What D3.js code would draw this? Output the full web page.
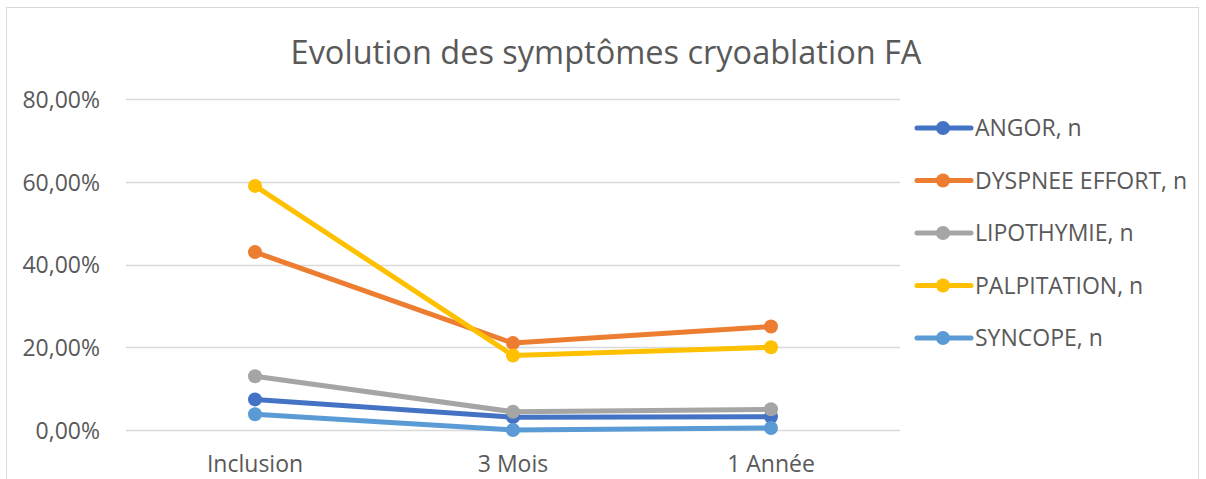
<!DOCTYPE html>
<html><head><meta charset="utf-8">
<script src="https://cdn.jsdelivr.net/npm/d3@7"></script>
<style>body{margin:0;background:#fff}svg{display:block}text{font-family:"Open Sans",Lato,sans-serif}</style>
</head><body>
<script>
const categories = ["Inclusion", "3 Mois", "1 Année"];
const seriesNames = ["ANGOR, n", "DYSPNEE EFFORT, n", "LIPOTHYMIE, n", "PALPITATION, n", "SYNCOPE, n"];
const angor = [0.074, 0.031, 0.032];
const dyspnee = [0.43, 0.21, 0.25];
const lipothymie = [0.13, 0.044, 0.05];
const palpitation = [0.59, 0.18, 0.20];
const syncope = [0.038, 0.0, 0.005];
const yTicks = [0, 0.2, 0.4, 0.6, 0.8];
const colors = ["#4472C4", "#ED7D31", "#A5A5A5", "#FFC000", "#5B9BD5"];
const title = "Evolution des symptômes cryoablation FA";

const series = [angor, dyspnee, lipothymie, palpitation, syncope].map((v, i) => ({name: seriesNames[i], values: v, color: colors[i]}));

const W = 1206, H = 479;
const svg = d3.select("body").append("svg").attr("width", W).attr("height", H);
svg.append("rect").attr("x", 6.5).attr("y", 7.5).attr("width", 1192).attr("height", 480).attr("fill", "#fff").attr("stroke", "#d9d9d9");

const x = d3.scaleBand().domain(categories).range([126, 900]);
const y = d3.scaleLinear().domain([0, 0.8]).range([430, 99]);

const fmt = v => d3.format(".2f")(v * 100).replace(".", ",") + "%";

svg.append("g").selectAll("line").data(yTicks).join("line")
  .attr("x1", 126).attr("x2", 900).attr("y1", d => Math.round(y(d)) + 0.5).attr("y2", d => Math.round(y(d)) + 0.5)
  .attr("stroke", "#d9d9d9").attr("stroke-width", 1.3);

const yAxis = svg.append("g").attr("transform", "translate(100,0)")
  .call(d3.axisLeft(y).tickValues(yTicks).tickFormat(fmt).tickSize(0).tickPadding(0));
yAxis.select(".domain").remove();
yAxis.selectAll("text").attr("fill", "#595959").style("font-size", "23px").attr("dy", "0.36em");

const xAxis = svg.append("g").attr("transform", "translate(0,464)")
  .call(d3.axisBottom(x).tickSize(0).tickPadding(0));
xAxis.select(".domain").remove();
xAxis.selectAll("text").attr("fill", "#595959").style("font-size", "23px").attr("dy", "0.36em");

const line = d3.line().x((d, i) => x(categories[i]) + x.bandwidth() / 2).y(d => y(d));
const g = svg.append("g");
series.forEach(s => {
  g.append("path").attr("d", line(s.values)).attr("fill", "none").attr("stroke", s.color)
    .attr("stroke-width", 5).attr("stroke-linejoin", "round").attr("stroke-linecap", "round");
  g.selectAll(null).data(s.values).join("circle")
    .attr("cx", (d, i) => x(categories[i]) + x.bandwidth() / 2).attr("cy", d => y(d))
    .attr("r", 7).attr("fill", s.color);
});

svg.append("text").attr("x", 606).attr("y", 64).attr("text-anchor", "middle")
  .attr("fill", "#595959").style("font-size", "32.5px").text(title);

const leg = svg.append("g");
series.forEach((s, i) => {
  const yy = 128 + i * 52.5;
  leg.append("line").attr("x1", 917).attr("x2", 971).attr("y1", yy).attr("y2", yy)
    .attr("stroke", s.color).attr("stroke-width", 5).attr("stroke-linecap", "round");
  leg.append("circle").attr("cx", 943).attr("cy", yy).attr("r", 7).attr("fill", s.color);
  leg.append("text").attr("x", 975).attr("y", yy).attr("dy", "0.36em").attr("fill", "#595959")
    .style("font-size", "23px").text(s.name);
});
</script>
</body></html>
